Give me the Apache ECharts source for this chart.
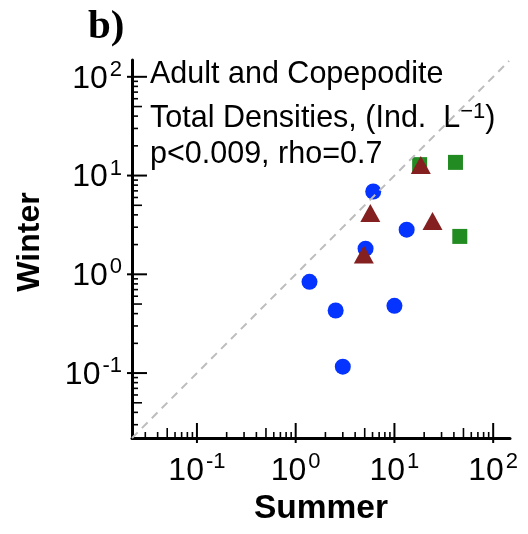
<!DOCTYPE html>
<html>
<head>
<meta charset="utf-8">
<script src="https://cdn.jsdelivr.net/npm/echarts@6/dist/echarts.min.js"></script>
<style>
  html, body { margin: 0; padding: 0; background: #fff; }
  #chart { width: 528px; height: 534px; }
</style>
</head>
<body>
<div id="chart"></div>
<script>
// densities (summer on x, winter on y)
const circleSummer = [6.1, 13.3, 5.1, 1.38, 2.54, 10.0, 3.0];
const circleWinter = [6.9, 2.83, 1.82, 0.84, 0.43, 0.48, 0.116];
const triangleSummer = [18.5, 5.7, 24.3, 4.9];
const triangleWinter = [12.8, 4.18, 3.47, 1.59];
const squareSummer = [18.0, 41.5, 45.9];
const squareWinter = [12.9, 13.6, 2.42];

const axisMin = 0.022;
const axisMax = 148;
const majorTicks = [0.1, 1, 10, 100];
const decades = [0.01, 0.1, 1, 10, 100];
const minorSteps = [2, 3, 4, 5, 6, 7, 8, 9];

const FONT = 'Liberation Sans';

const pairs = (xs, ys) => xs.map((x, i) => [x, ys[i]]);

// tick list: [value, kind]  kind 0 = decade, 1 = the 5x tick, 2 = minor
const ticks = majorTicks.map(v => [v, 0]);
decades.forEach(d => {
  minorSteps.forEach(s => {
    const v = +(d * s).toPrecision(3);
    if (v >= axisMin && v <= axisMax) ticks.push([v, s === 5 ? 1 : 2]);
  });
});

function tickRender(dir) {
  return function (params, api) {
    const x = api.value(0), y = api.value(1), kind = api.value(2);
    const p = api.coord([x, y]);
    const len = kind === 0 ? 15 : (kind === 1 ? 10 : 6);
    const out = kind === 0 ? 5 : 0;
    const shape = dir === 'x'
      ? { x1: p[0], y1: p[1] + out, x2: p[0], y2: p[1] - len }
      : { x1: p[0] - out, y1: p[1], x2: p[0] + len, y2: p[1] };
    return {
      type: 'line',
      shape: shape,
      style: { stroke: '#000', lineWidth: kind === 0 ? 2 : 1.6 }
    };
  };
}

function powLabel(v) {
  const l = Math.log10(v);
  const e = Math.round(l);
  if (Math.abs(l - e) > 1e-6) return '';
  return '{n|10}{s|' + e + '}';
}

const labelRich = {
  n: { fontSize: 32, fontFamily: FONT, color: '#000', padding: [4, 0, 0, 0], verticalAlign: 'bottom' },
  s: { fontSize: 22, fontFamily: FONT, color: '#000', verticalAlign: 'top', padding: [0, 0, 0, 2] }
};

const axisBase = {
  type: 'log',
  logBase: 10,
  min: axisMin,
  max: axisMax,
  axisLine: { show: true, onZero: false, lineStyle: { color: '#000', width: 3 } },
  axisTick: { show: false },
  minorTick: { show: false },
  splitLine: { show: false },
  nameLocation: 'middle'
};

const chart = echarts.init(document.getElementById('chart'));

chart.setOption({
  animation: false,
  backgroundColor: '#fff',
  grid: { left: 132, right: 18, top: 60, bottom: 96 },
  xAxis: Object.assign({}, axisBase, {
    name: 'Summer',
    nameGap: 54,
    nameTextStyle: { fontSize: 33.5, fontWeight: 'bold', fontFamily: FONT, color: '#000' },
    axisLabel: { formatter: powLabel, margin: 13, rich: labelRich }
  }),
  yAxis: Object.assign({}, axisBase, {
    name: 'Winter',
    nameGap: 86,
    nameTextStyle: { fontSize: 32, fontWeight: 'bold', fontFamily: FONT, color: '#000', padding: [0, 0, 0, 14] },
    axisLabel: { formatter: powLabel, margin: 10, rich: labelRich }
  }),
  graphic: [
    {
      type: 'text', x: 88, y: 27,
      style: { text: 'b)', font: 'bold 41px "Liberation Serif"', fill: '#000', verticalAlign: 'middle' }
    },
    {
      type: 'text', x: 150, y: 75,
      style: { text: 'Adult and Copepodite', font: '30.5px "Liberation Sans"', fill: '#000', verticalAlign: 'middle' }
    },
    {
      type: 'text', x: 150, y: 117.5,
      style: {
        text: '{a|Total Densities, (Ind.  L}{s|\u22121}{a|)}',
        verticalAlign: 'middle',
        rich: {
          a: { fontSize: 30.5, fontFamily: FONT, fill: '#000', padding: [3, 0, 0, 0], verticalAlign: 'bottom' },
          s: { fontSize: 22, fontFamily: FONT, fill: '#000', verticalAlign: 'top' }
        }
      }
    },
    {
      type: 'text', x: 150, y: 154.5,
      style: { text: 'p<0.009, rho=0.7', font: '30.5px "Liberation Sans"', fill: '#000', verticalAlign: 'middle' }
    }
  ],
  series: [
    {
      type: 'custom',
      renderItem: tickRender('x'),
      data: ticks.map(t => [t[0], axisMin, t[1]]),
      encode: { x: 0, y: 1 },
      clip: false,
      silent: true
    },
    {
      type: 'custom',
      renderItem: tickRender('y'),
      data: ticks.map(t => [axisMin, t[0], t[1]]),
      encode: { x: 0, y: 1 },
      clip: false,
      silent: true
    },
    {
      name: 'squares',
      type: 'scatter',
      symbol: 'rect',
      symbolSize: 15,
      itemStyle: { color: '#228b22', opacity: 1 },
      data: pairs(squareSummer, squareWinter)
    },
    {
      name: 'circles',
      type: 'scatter',
      symbol: 'circle',
      symbolSize: 16,
      itemStyle: { color: '#0533ff', opacity: 1 },
      data: pairs(circleSummer, circleWinter)
    },
    {
      name: '1:1',
      type: 'line',
      symbol: 'none',
      silent: true,
      lineStyle: { color: '#bdbdbd', width: 2, type: [8, 6] },
      data: [[axisMin, axisMin], [145, 145]]
    },
    {
      name: 'triangles',
      type: 'scatter',
      symbol: 'triangle',
      symbolSize: [20, 18],
      itemStyle: { color: '#842020', opacity: 1 },
      data: pairs(triangleSummer, triangleWinter)
    }
  ]
});
</script>
</body>
</html>
